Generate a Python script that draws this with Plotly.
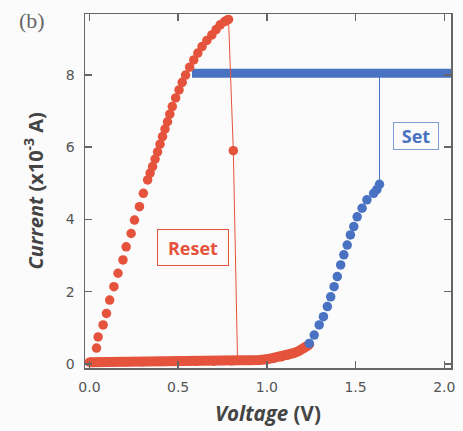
import plotly.graph_objects as go

# Reset branch (high-current rise), V and I (x10^-3 A)
reset_rise_v = [0.040, 0.049, 0.077, 0.096, 0.114, 0.138, 0.161, 0.189, 0.207, 0.235, 0.254,
                0.282, 0.304, 0.328, 0.342, 0.356, 0.370, 0.384, 0.398, 0.412, 0.426, 0.440,
                0.453, 0.467, 0.486, 0.505, 0.523, 0.542, 0.565, 0.588, 0.611, 0.635, 0.662,
                0.690, 0.714, 0.737, 0.762, 0.775, 0.784]
reset_rise_i = [0.44, 0.75, 1.08, 1.40, 1.77, 2.14, 2.51, 2.88, 3.24, 3.61, 3.98,
                4.35, 4.72, 5.09, 5.28, 5.46, 5.67, 5.87, 6.08, 6.29, 6.50, 6.70,
                6.91, 7.12, 7.36, 7.58, 7.79, 7.99, 8.21, 8.41, 8.60, 8.78, 8.95,
                9.10, 9.25, 9.38, 9.47, 9.51, 9.53]

# Reset drop (thin line through one point)
reset_drop_v = [0.784, 0.811, 0.835]
reset_drop_i = [9.53, 5.90, 0.05]

# Low-current branch (red band)
low_v = [0.00, 0.05, 0.10, 0.20, 0.30, 0.40, 0.50, 0.60, 0.70, 0.80, 0.90, 0.96,
         1.00, 1.04, 1.08, 1.12, 1.15, 1.18, 1.21, 1.24]
low_i = [0.05, 0.05, 0.06, 0.06, 0.06, 0.07, 0.07, 0.08, 0.08, 0.09, 0.10, 0.11,
         0.13, 0.16, 0.20, 0.25, 0.30, 0.36, 0.44, 0.54]

# Set branch (blue rise)
set_v = [1.239, 1.267, 1.295, 1.319, 1.341, 1.360, 1.379, 1.397, 1.416, 1.434, 1.453,
         1.471, 1.490, 1.509, 1.537, 1.564, 1.602, 1.620, 1.635]
set_i = [0.57, 0.80, 1.08, 1.31, 1.59, 1.86, 2.14, 2.42, 2.74, 3.02, 3.29,
         3.57, 3.80, 4.07, 4.31, 4.54, 4.72, 4.82, 4.97]

# Set jump to compliance and compliance plateau
set_jump_v = [1.635, 1.635]
set_jump_i = [4.97, 8.04]
comp_v = [0.578, 2.10]
comp_i = [8.04, 8.04]

x_ticks = [0.0, 0.5, 1.0, 1.5, 2.0]
x_tick_text = ["0.0", "0.5", "1.0", "1.5", "2.0"]
y_ticks = [0, 2, 4, 6, 8]
y_tick_text = ["0", "2", "4", "6", "8"]

RED = "#e5533d"
BLUE = "#4a72c2"
GRAY = "#555555"
MS = 9.5

fig = go.Figure()

fig.add_trace(go.Scatter(x=comp_v, y=comp_i, mode="lines",
                         line=dict(color=BLUE, width=9)))
fig.add_trace(go.Scatter(x=set_jump_v, y=set_jump_i, mode="lines",
                         line=dict(color=BLUE, width=1)))
fig.add_trace(go.Scatter(x=reset_drop_v, y=reset_drop_i, mode="lines",
                         line=dict(color=RED, width=1)))
fig.add_trace(go.Scatter(x=reset_drop_v[1:2], y=reset_drop_i[1:2], mode="markers",
                         marker=dict(color=RED, size=MS)))
fig.add_trace(go.Scatter(x=low_v, y=low_i, mode="lines+markers",
                         line=dict(color=RED, width=10), marker=dict(color=RED, size=MS)))
fig.add_trace(go.Scatter(x=set_v, y=set_i, mode="markers",
                         marker=dict(color=BLUE, size=MS)))
fig.add_trace(go.Scatter(x=reset_rise_v, y=reset_rise_i, mode="markers",
                         marker=dict(color=RED, size=MS)))

axis_common = dict(
    showline=True, linecolor="#666666", linewidth=1.5, mirror="ticks",
    ticks="inside", ticklen=7, tickwidth=1.5, tickcolor="#666666",
    showgrid=False, zeroline=False,
    tickfont=dict(family="DejaVu Sans", size=14, color=GRAY),
    ticklabelstandoff=6,
)

fig.update_xaxes(range=[-0.025, 2.038], tickvals=x_ticks, ticktext=x_tick_text, **axis_common)
fig.update_yaxes(range=[-0.11, 9.68], tickvals=y_ticks, ticktext=y_tick_text, **axis_common)

annotations = [
    dict(text="<b><i>Voltage</i> (V)</b>", xref="paper", yref="paper", x=0.5, y=-0.127,
         xanchor="center", yanchor="middle", showarrow=False,
         font=dict(family="Open Sans", size=20.5, color="#444444")),
    dict(text="<b><i>Current</i> (x10<sup>-3</sup> A)</b>", xref="paper", yref="paper",
         x=-0.141, y=0.5, xanchor="center", yanchor="middle", textangle=-90, showarrow=False,
         font=dict(family="Open Sans", size=20, color="#444444")),
    dict(text="(b)", xref="paper", yref="paper", x=-0.146, y=0.983,
         xanchor="center", yanchor="middle", showarrow=False,
         font=dict(family="Liberation Serif", size=22, color="#666666")),
    dict(text="<b>Reset</b>", x=0.583, y=3.21, xref="x", yref="y", showarrow=False,
         font=dict(family="Open Sans", size=18, color=RED),
         bordercolor=RED, borderwidth=1, borderpad=2, width=66, height=31,
         bgcolor="rgba(255,255,255,0)"),
    dict(text="<b>Set</b>", x=1.838, y=6.31, xref="x", yref="y", showarrow=False,
         font=dict(family="Open Sans", size=18, color=BLUE),
         bordercolor="#7f9bd6", borderwidth=1, borderpad=2, width=40, height=22,
         bgcolor="rgba(255,255,255,0)"),
]

fig.update_layout(
    width=463, height=431,
    margin=dict(l=85, r=8, t=14, b=63),
    paper_bgcolor="#fbfbfb", plot_bgcolor="#fbfbfb",
    showlegend=False,
    hovermode=False,
    annotations=annotations,
)

fig.write_html(
    "out.html",
    config={"displayModeBar": False, "staticPlot": True},
    post_script="document.body.style.margin='0';document.body.style.overflow='hidden';"
                "document.body.style.background='#fbfbfb';",
)
